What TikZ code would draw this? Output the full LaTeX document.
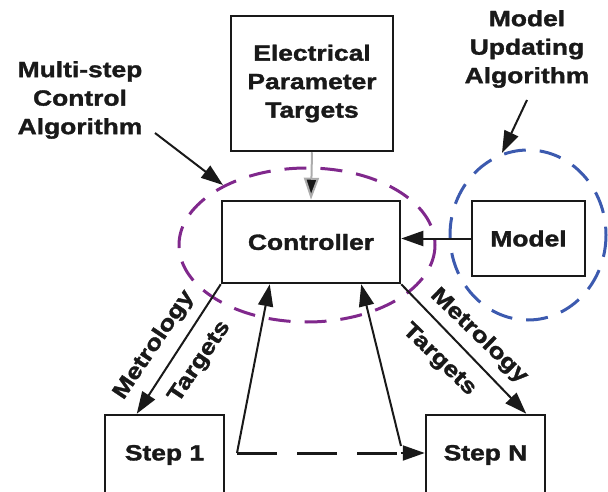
\documentclass[tikz,border=0pt]{standalone}
\usepackage{fontspec}
\setmainfont{Liberation Sans}[FakeStretch=1.2, BoldFeatures={FakeBold=1.5}]
\usetikzlibrary{arrows.meta,calc}
\definecolor{purp}{RGB}{128,40,140}
\definecolor{blu}{RGB}{60,90,175}
\definecolor{ink}{RGB}{25,25,25}
\begin{document}
\begin{tikzpicture}[x=1pt,y=-1pt,
 box/.style={draw=ink, line width=2.5pt, fill=white, inner sep=0pt},
 lbl/.style={font=\fontsize{22}{28.5}\selectfont\bfseries, align=center, text=ink},
 tip/.style={-{Triangle[length=22pt,width=15pt]}},
 arr/.style={line width=2pt, draw=ink, tip},
 ring/.style={line width=3pt, dash pattern=on 22pt off 14pt},
]
\useasboundingbox (0,0) rectangle (608,492);
\draw[ring, draw=purp] (307,245) ellipse [x radius=128, y radius=77];
\draw[ring, draw=blu] (528,235) ellipse [x radius=78, y radius=85];

\node[box, lbl, minimum width=162pt, minimum height=135pt] (ept) at (312,83.5) {Electrical\\Parameter\\Targets};
\node[box, lbl, minimum width=178pt, minimum height=82pt] (ctl) at (311,242) {Controller};
\node[box, lbl, minimum width=113pt, minimum height=75pt] (mdl) at (528.5,238.5) {Model};
\node[box, lbl, minimum width=119pt, minimum height=80pt] (s1) at (164.5,455) {Step 1};
\node[box, lbl, minimum width=119pt, minimum height=80pt] (sn) at (485.5,455) {Step N};

\node[lbl] (msc) at (80,100) {Multi-step\\Control\\Algorithm};
\node[lbl] (mua) at (527,49) {Model\\Updating\\Algorithm};

\draw[line width=2pt, draw=gray!65, -{Triangle[length=22pt,width=15pt,fill=ink]}] (ept.south) -- (ctl.north);
\draw[arr] (mdl.west) -- (ctl.east |- mdl.west);
\draw[arr] (ctl.south west) -- ($(s1.north west)+(33,0)$);
\draw[arr] (ctl.south east) -- ($(sn.north east)+(-20,0)$);

\coordinate (j) at (237,453);
\coordinate (k) at (401,446);
\draw[arr] (j) -- ($(ctl.south west)+(49,0)$);
\draw[arr] (k) -- ($(ctl.south east)+(-40,0)$);
\draw[line width=3pt, draw=ink, dash pattern=on 40pt off 20pt] (j) -- ($(sn.west |- j)+(-22,0)$);
\draw[arr] ($(sn.west |- j)+(-24,0)$) -- (sn.west |- j);

\coordinate (m1) at (155,133);
\coordinate (m2) at (527,100);
\draw[arr] (m1) -- (223,185);
\draw[arr] (m2) -- (502,153);

\node[lbl, rotate=56] (mt1) at (154,345) {Metrology};
\node[lbl, rotate=56] (tg1) at (200,362) {Targets};
\node[lbl, rotate=-44] (mt2) at (479,336) {Metrology};
\node[lbl, rotate=-44] (tg2) at (439,360) {Targets};
\end{tikzpicture}
\end{document}
